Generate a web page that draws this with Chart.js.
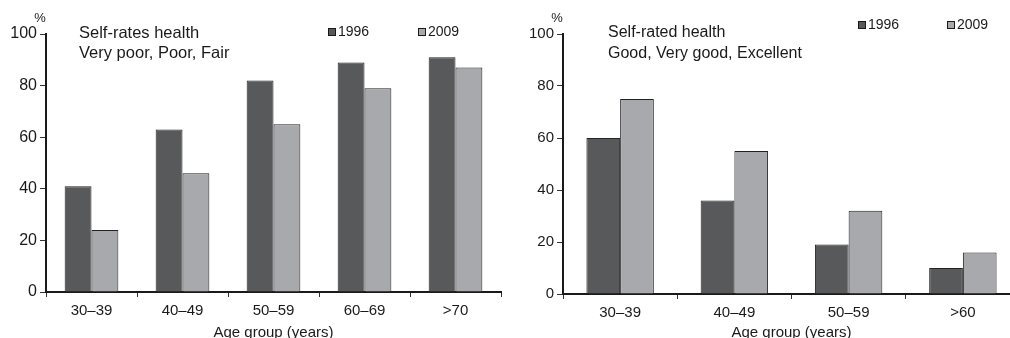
<!DOCTYPE html>
<html>
<head>
<meta charset="utf-8">
<script src="https://cdn.jsdelivr.net/npm/chart.js@4.4.0/dist/chart.umd.min.js"></script>
<style>
  html, body { margin: 0; padding: 0; background: #fff; overflow: hidden; }
  #wrap { position: relative; width: 1010px; height: 338px; overflow: hidden; }
  .box { position: absolute; top: 0; height: 338px; }
  #leftBox { left: 0; width: 505px; }
  #rightBox { left: 505px; width: 520px; }
</style>
</head>
<body>
<div id="wrap">
  <div class="box" id="leftBox"><canvas id="leftChart" width="505" height="338"></canvas></div>
  <div class="box" id="rightBox"><canvas id="rightChart" width="520" height="338"></canvas></div>
</div>
<script>
// left panel: very poor / poor / fair
const poorAges = ['30\u201339', '40\u201349', '50\u201359', '60\u201369', '>70'];
const poor1996 = [41, 63, 82, 89, 91];
const poor2009 = [24, 46, 65, 79, 87];

// right panel: good / very good / excellent
const goodAges = ['30\u201339', '40\u201349', '50\u201359', '>60'];
const good1996 = [60, 36, 19, 10];
const good2009 = [75, 55, 32, 16];

const yTicks = [0, 20, 40, 60, 80, 100];
const years = ['1996', '2009'];

const FONT = '"Liberation Sans", Arial, sans-serif';
const DARK = '#58595b';
const LIGHT = '#a7a9ac';
const INK = '#1a1a1a';

Chart.defaults.font.family = FONT;
Chart.defaults.color = INK;

// draws the "%" unit, the two-line panel title and the small legend
const annotate = {
  id: 'annotate',
  afterDraw(chart, args, o) {
    const ctx = chart.ctx;
    const area = chart.chartArea;
    ctx.save();
    ctx.fillStyle = INK;
    ctx.textBaseline = 'middle';
    ctx.font = '13px ' + FONT;
    ctx.textAlign = 'center';
    ctx.fillText('%', area.left - 6, 18);

    ctx.textAlign = 'left';
    ctx.font = o.titleSize + 'px ' + FONT;
    o.title.forEach((line, i) => ctx.fillText(line, o.titleX, 33 + i * 20.5));

    ctx.font = '14px ' + FONT;
    chart.data.datasets.forEach((ds, i) => {
      const x = o.legendX[i];
      const y = o.legendY;
      ctx.fillStyle = ds.backgroundColor;
      ctx.fillRect(x, y - 4, 7, 7);
      ctx.strokeStyle = INK;
      ctx.lineWidth = 1;
      ctx.strokeRect(x + 0.5, y - 3.5, 7, 7);
      ctx.fillStyle = INK;
      ctx.fillText(ds.label, x + 10, y);
    });
    ctx.restore();
  }
};

function makeChart(id, labels, a, b, geo) {
  const canvas = document.getElementById(id);
  const W = canvas.width, H = canvas.height;
  return new Chart(canvas, {
    type: 'bar',
    data: {
      labels: labels,
      datasets: [
        { label: years[0], data: a, backgroundColor: DARK, borderColor: '#222', borderWidth: 1,
          categoryPercentage: 0.59, barPercentage: 1 },
        { label: years[1], data: b, backgroundColor: LIGHT, borderColor: '#222', borderWidth: 1,
          categoryPercentage: 0.59, barPercentage: 1 }
      ]
    },
    options: {
      responsive: false,
      animation: false,
      layout: { padding: { left: 0, right: W - geo.right, top: geo.top, bottom: 0 } },
      plugins: {
        legend: { display: false },
        tooltip: { enabled: false },
        annotate: geo
      },
      scales: {
        x: {
          grid: { drawOnChartArea: false, offset: true, tickLength: 5, color: '#333' },
          border: { color: INK, width: 2 },
          ticks: { font: { size: 15 }, padding: 5, color: INK },
          title: { display: true, text: 'Age group (years)', font: { size: 15 }, color: INK,
                   padding: { top: 0, bottom: -4 } },
          afterFit: s => { s.height = H - geo.bottom; }
        },
        y: {
          min: 0, max: 100,
          afterBuildTicks: s => { s.ticks = yTicks.map(v => ({ value: v })); },
          grid: { drawOnChartArea: false, tickLength: 6, color: '#333' },
          border: { color: INK, width: 2 },
          ticks: { font: { size: geo.yTickSize }, padding: 3, color: INK },
          afterFit: s => { s.width = geo.left; }
        }
      }
    },
    plugins: [annotate]
  });
}

makeChart('leftChart', poorAges, poor1996, poor2009, {
  left: 46, right: 501, top: 34, bottom: 292, yTickSize: 16,
  title: ['Self-rates health', 'Very poor, Poor, Fair'], titleX: 79, titleSize: 16.5,
  legendX: [328, 418], legendY: 32
});

makeChart('rightChart', goodAges, good1996, good2009, {
  left: 58, right: 515, top: 34, bottom: 294, yTickSize: 15,
  title: ['Self-rated health', 'Good, Very good, Excellent'], titleX: 103, titleSize: 16,
  legendX: [353, 442], legendY: 25
});
</script>
</body>
</html>
